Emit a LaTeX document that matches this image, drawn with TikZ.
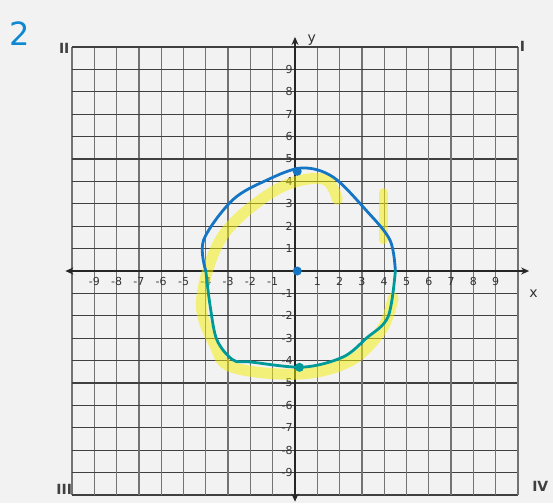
\documentclass[tikz,border=0pt]{standalone}
\usepackage{fontspec}
\setsansfont{DejaVu Sans}
\usetikzlibrary{arrows.meta}
\tikzset{
 tick/.style={font=\sffamily\fontsize{11}{11}\selectfont,text=black!80,inner sep=1pt},
 quad/.style={font=\sffamily\bfseries\fontsize{14}{14}\selectfont,text=black!75},
 ink/.style={line width=2.8pt,line cap=round,line join=round},
 dot/.style={circle,fill=#1,inner sep=0pt,minimum size=9pt}
}
\begin{document}
\begin{tikzpicture}[x=22.3pt,y=22.4pt,>={Stealth[length=8pt,width=7pt]}]
\useasboundingbox[fill=black!5] (-13.23,-10.36) rectangle (11.57,12.10);
% the graph paper
\foreach \k in {-10,...,10}{
 \draw[black!55,line width=1.3pt] (\k,-10)--(\k,10);
 \draw[black!75,line width=1.1pt] (-10,\k)--(10,\k);
}
\coordinate (xl) at (-10.3,0); \coordinate (xr) at (10.5,0);
\coordinate (yb) at (0,-10.3); \coordinate (yt) at (0,10.45);
\draw[<->,black!85,line width=1.4pt] (xl)--(xr);
\draw[<->,black!85,line width=1.4pt] (yb)--(yt);
\node[tick,font=\sffamily\fontsize{14}{14}\selectfont] (xlab) at (10.7,-1) {x};
\node[tick,font=\sffamily\fontsize{14}{14}\selectfont] (ylab) at (0.75,10.3) {y};
\foreach \i in {-9,...,-1,1,2,...,9}{
 \node[tick] (xt\i) at (\i,-0.45) {\i};
 \node[tick,anchor=east] (yt\i) at (-0.05,\i) {\i};
}
% quadrant marks and the problem number
\node[quad] (qtwo) at (-10.35,9.95) {II};
\node[quad] (qone) at (10.2,10.05) {I};
\node[quad] (qthree) at (-10.35,-9.75) {III};
\node[quad] (qfour) at (11.0,-9.6) {IV};
\node[text=cyan!70!blue,font=\sffamily\fontsize{32}{32}\selectfont] (num) at (-12.35,10.6) {2};
% highlighter
\draw[yellow!85!lime,opacity=0.5,line width=11pt,line cap=round,line join=round]
 plot[smooth,tension=0.6] coordinates {(1.9,3.2) (1.3,4.1) (-0.5,3.8) (-2.5,2.4) (-3.6,0.9)
 (-4.2,-1.5) (-3.6,-3.3) (-2.8,-4.3) (0.2,-4.6) (2.5,-4.0) (3.9,-2.6) (4.4,-1.2)};
\draw[yellow!85!lime,opacity=0.5,line width=9pt,line cap=round] (3.95,1.4)--(3.95,3.5);
% the circle
\draw[ink,cyan!55!blue] plot[smooth,tension=0.55] coordinates {(-4.0,0) (-4.1,1.38)
 (-2.8,3.17) (-1.26,4.06) (0.3,4.6) (1.7,4.2) (3.2,2.7) (4.26,1.38) (4.5,0)};
\draw[ink,teal!80!cyan] plot[smooth,tension=0.55] coordinates {(4.5,0) (4.17,-2.05)
 (3.2,-3.0) (2.15,-3.84) (0.36,-4.29) (-2.0,-4.06) (-2.78,-3.97) (-3.5,-3.08) (-3.8,-1.6) (-4.0,0)};
\node[dot=cyan!55!blue] (ctr) at (0.1,0) {};
\node[dot=cyan!55!blue] (top) at (0.1,4.45) {};
\node[dot=teal!80!cyan] (bot) at (0.2,-4.3) {};
\end{tikzpicture}
\end{document}
